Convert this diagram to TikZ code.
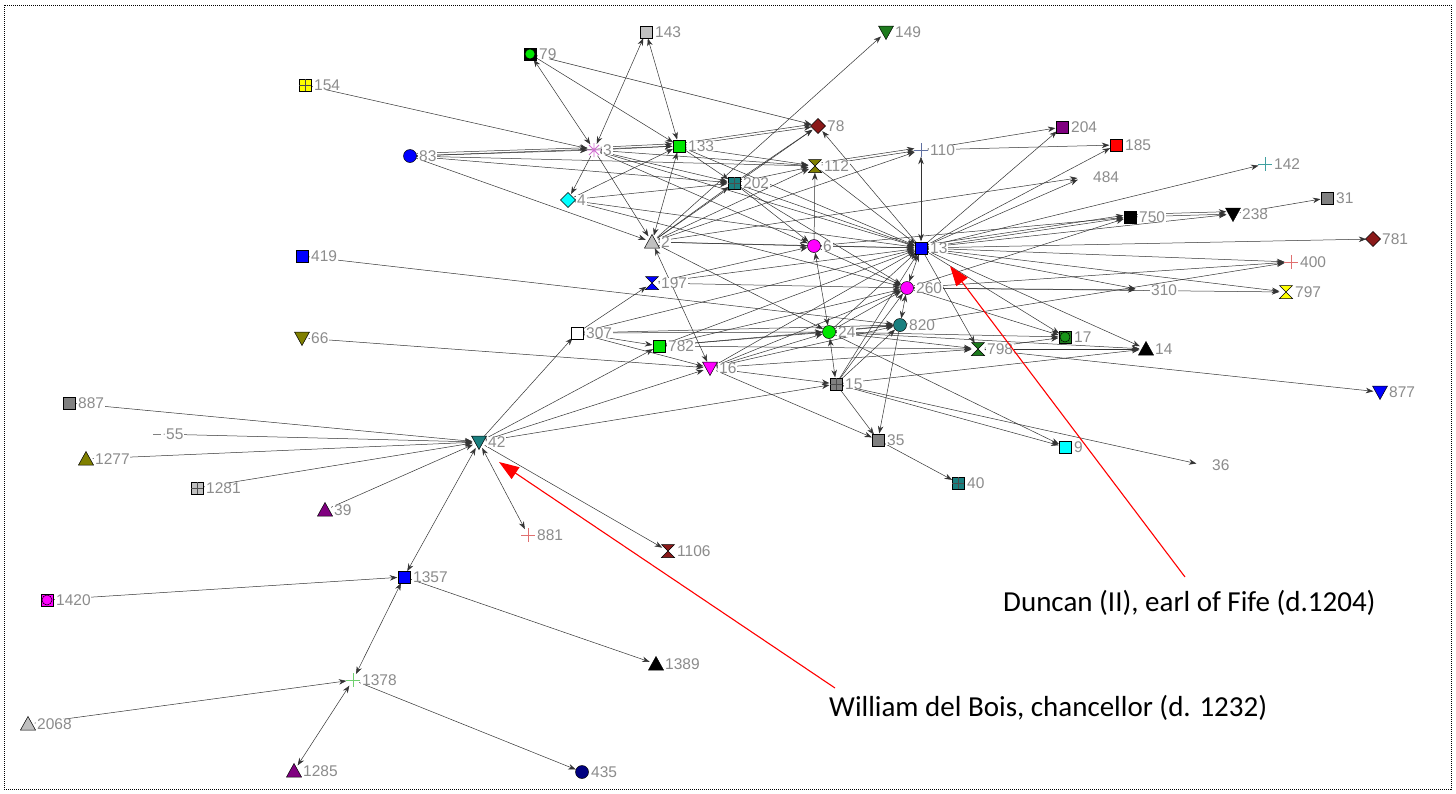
\documentclass[tikz,border=0pt]{standalone}
\usepackage{fontspec}
\setmainfont{Liberation Sans}
\newfontfamily\carlito{Carlito}
\usetikzlibrary{arrows.meta}
\definecolor{labg}{HTML}{8C8C8C}
\definecolor{cgreen}{HTML}{00E600}
\definecolor{cdgreen}{HTML}{1E7B1E}
\definecolor{cmag}{HTML}{FF00FF}
\definecolor{cteal}{HTML}{1A7F7F}
\definecolor{cgray}{HTML}{808080}
\definecolor{clgray}{HTML}{C0C0C0}
\definecolor{colive}{HTML}{808000}
\definecolor{cdred}{HTML}{8B1A1A}
\definecolor{cpurple}{HTML}{800080}
\definecolor{ccyan}{HTML}{00FFFF}
\definecolor{cnavy}{HTML}{000080}
\definecolor{cyellow}{HTML}{FFFF00}
\definecolor{cblue}{HTML}{0000FF}
\definecolor{cred}{HTML}{FF0000}
\definecolor{cpink}{HTML}{D070D0}
\definecolor{cplgreen}{HTML}{70D070}
\definecolor{cpteal}{HTML}{40A0A0}
\definecolor{cpblue}{HTML}{6070A0}
\definecolor{cpred}{HTML}{E07070}
\newcommand\V[3]{\node[vtx] (n#1) at (#2,#3) {};}
\tikzset{
  vtx/.style={circle, minimum size=13pt, inner sep=0pt, draw=none},
  lab/.style={anchor=west, inner xsep=0.8pt, inner ysep=0pt, fill=white, text=labg, font=\fontsize{15.5}{18}\selectfont},
  ed/.style={draw=black!80, line width=0.5pt, -{Stealth[length=7.5pt,width=5.5pt]}},
  edb/.style={draw=black!80, line width=0.5pt, {Stealth[length=7.5pt,width=5.5pt]}-{Stealth[length=7.5pt,width=5.5pt]}},
  anno/.style={anchor=west, inner sep=0pt, text=black, font=\carlito\fontsize{29}{33}\selectfont},
  redarr/.style={draw=red, line width=1.1pt, -{Triangle[length=20pt,width=14pt]}},
  shp/.style={draw=black, line width=0.5pt},
  pics/sq/.style={code={\draw[shp,fill=#1] (-6,-6) rectangle (6,6);}},
  pics/gsq/.style={code={\draw[shp,fill=#1] (-6,-6) rectangle (6,6); \draw[black!70,line width=0.5pt] (0,-6)--(0,6) (-6,0)--(6,0);}},
  pics/csq/.style 2 args={code={\draw[shp,fill=#1] (-6,-6) rectangle (6,6); \draw[shp,fill=#2] (0,0) circle (5pt);}},
  pics/ci/.style={code={\draw[shp,fill=#1] (0,0) circle (6.5pt);}},
  pics/di/.style={code={\draw[shp,fill=#1] (0,-7.5)--(7.5,0)--(0,7.5)--(-7.5,0)--cycle;}},
  pics/tu/.style={code={\draw[shp,fill=#1] (-7.5,6)--(7.5,6)--(0,-7.5)--cycle;}},
  pics/td/.style={code={\draw[shp,fill=#1] (-7.5,-6)--(7.5,-6)--(0,7.5)--cycle;}},
  pics/hg/.style={code={\draw[shp,fill=#1] (-6.5,-6.5)--(6.5,-6.5)--(-6.5,6.5)--(6.5,6.5)--cycle;}},
  pics/pl/.style={code={\draw[#1,line width=0.9pt] (-7,0)--(7,0) (0,-7)--(0,7);}},
  pics/ast/.style={code={\draw[#1,line width=0.9pt] (-7,0)--(7,0) (0,-7)--(0,7) (-5,-5)--(5,5) (-5,5)--(5,-5);}},
  pics/dsh/.style={code={\draw[#1,line width=0.9pt] (-4,0)--(4,0);}},
}
\begin{document}
\begin{tikzpicture}[x=1pt,y=-1pt]
\useasboundingbox (0,0) rectangle (1456,793);
\fill[white] (0,0) rectangle (1456,793);
\draw[line width=0.9pt, dash pattern=on 1pt off 1pt] (4,5) rectangle (1451,789);
% vertices
\V{143}{646}{32}   \V{79}{530}{54}    \V{149}{886}{32}   \V{154}{305}{85}
\V{78}{818}{126}   \V{204}{1062}{127} \V{185}{1116}{145} \V{83}{410}{156}
\V{3}{594}{150}    \V{133}{679}{146}  \V{112}{815}{166}  \V{110}{921}{150}
\V{142}{1265}{164} \V{484}{1084}{177} \V{202}{734}{183}  \V{4}{568}{200}
\V{2}{652}{242}    \V{6}{814}{246}    \V{13}{921}{248}   \V{750}{1130}{217}
\V{238}{1233}{214} \V{31}{1327}{198}  \V{781}{1373}{239} \V{400}{1291}{262}
\V{797}{1286}{292} \V{310}{1142}{290} \V{419}{302}{256}  \V{197}{652}{283}
\V{260}{907}{288}  \V{820}{900}{325}  \V{307}{577}{333}  \V{24}{829}{332}
\V{782}{659}{346}  \V{66}{302}{338}   \V{17}{1065}{337}  \V{798}{978}{349}
\V{14}{1146}{349}  \V{16}{710}{368}   \V{15}{836}{384}   \V{877}{1380}{392}
\V{887}{69}{403}   \V{55}{157}{434}   \V{42}{479}{442}   \V{35}{878}{440}
\V{9}{1065}{447}   \V{36}{1203}{465}  \V{1277}{86}{459}  \V{40}{958}{483}
\V{1281}{197}{488} \V{39}{325}{510}   \V{881}{528}{535}  \V{1106}{668}{551}
\V{1357}{404}{577} \V{1420}{47}{600}  \V{1389}{656}{664} \V{1378}{353}{680}
\V{2068}{28}{724}  \V{1285}{294}{771} \V{435}{582}{772}
% edges
\foreach \a/\b in {79/133, 79/78, 154/3, 83/3, 83/133, 83/112, 83/202, 83/2,
  3/4, 3/202, 3/112, 3/2, 3/13, 3/6,
  4/133, 4/202, 4/13, 4/260,
  2/78, 2/112, 2/202, 2/110, 2/149, 2/6, 2/13, 2/24, 2/484,
  133/78, 133/112, 133/202, 133/13,
  202/112, 202/78, 202/13, 202/260, 202/6,
  6/112, 112/110, 112/13, 110/204, 110/185,
  13/78, 13/204, 13/185, 13/484, 13/142, 13/750, 6/750, 13/238, 750/238, 238/31,
  13/781, 13/400, 13/797, 13/310, 13/17, 13/14, 13/798,
  6/13, 6/260, 197/13, 197/6, 197/260,
  307/197, 307/782, 307/16, 307/24, 307/820, 307/13,
  42/307, 42/782, 42/16, 42/15,
  782/24, 782/820, 782/798, 782/260, 782/13,
  16/24, 16/820, 16/260, 16/13, 16/798, 16/15, 16/35,
  24/13, 24/260, 24/820, 24/798, 24/17, 24/9, 24/14,
  820/400, 260/310, 260/797, 260/400, 260/750, 260/17,
  15/820, 15/260, 15/13, 15/14, 15/36, 15/9, 15/35, 820/35, 35/40,
  798/877, 798/17, 798/14, 419/820, 66/16,
  887/42, 55/42, 1277/42, 1281/42, 39/42, 42/1106,
  1420/1357, 1357/1389, 2068/1378, 1378/435}
  \draw[ed] (n\a) -- (n\b);
\foreach \a/\b in {83/3, 133/78, 112/110, 750/238, 13/750, 3/133}
  \draw[ed, transform canvas={yshift=2.5pt}] (n\a) -- (n\b);
\foreach \a/\b in {79/3, 143/3, 143/133, 3/133, 2/133, 2/16, 110/13, 13/260,
  6/24, 24/15, 820/260, 42/881, 42/1357, 1357/1378, 1378/1285}
  \draw[edb] (n\a) -- (n\b);
% labels
\foreach \n in {143,79,149,154,78,204,185,83,3,133,112,110,142,484,202,4,2,6,13,750,
  238,31,781,400,797,310,419,197,260,820,307,24,782,66,17,798,14,16,15,877,
  887,55,42,35,9,36,1277,40,1281,39,881,1106,1357,1420,1389,1378,2068,1285,435}
  \node[lab] (l\n) at ([xshift=1.5pt]n\n.east) {\n};
% shapes
\pic at (n143) {sq=clgray};
\pic at (n79) {csq={black}{cgreen}};
\pic at (n149) {td=cdgreen};
\pic at (n154) {gsq=cyellow};
\pic at (n78) {di=cdred};
\pic at (n204) {sq=cpurple};
\pic at (n185) {sq=cred};
\pic at (n83) {ci=cblue};
\pic at (n3) {ast=cpink};
\pic at (n133) {sq=cgreen};
\pic at (n112) {hg=colive};
\pic at (n110) {pl=cpblue};
\pic at (n142) {pl=cpteal};
\pic at (n202) {gsq=cteal};
\pic at (n4) {di=ccyan};
\pic at (n2) {tu=clgray};
\pic at (n6) {ci=cmag};
\pic at (n13) {sq=cblue};
\pic at (n750) {sq=black};
\pic at (n238) {td=black};
\pic at (n31) {sq=cgray};
\pic at (n781) {di=cdred};
\pic at (n400) {pl=cpred};
\pic at (n797) {hg=cyellow};
\pic at (n419) {sq=cblue};
\pic at (n197) {hg=cblue};
\pic at (n260) {ci=cmag};
\pic at (n820) {ci=cteal};
\pic at (n307) {sq=white};
\pic at (n24) {ci=cgreen};
\pic at (n782) {sq=cgreen};
\pic at (n66) {td=colive};
\pic at (n17) {csq={cdgreen}{cdgreen!80!green}};
\pic at (n798) {hg=cdgreen};
\pic at (n14) {tu=black};
\pic at (n16) {td=cmag};
\pic at (n15) {gsq=cgray};
\pic at (n877) {td=cblue};
\pic at (n887) {sq=cgray};
\pic at (n55) {dsh=cgray};
\pic at (n42) {td=cteal};
\pic at (n35) {sq=cgray};
\pic at (n9) {sq=ccyan};
\pic at (n1277) {tu=colive};
\pic at (n40) {gsq=cteal};
\pic at (n1281) {gsq=clgray};
\pic at (n39) {tu=cpurple};
\pic at (n881) {pl=cpred};
\pic at (n1106) {hg=cdred};
\pic at (n1357) {sq=cblue};
\pic at (n1420) {csq={cmag}{cmag}};
\pic at (n1389) {tu=black};
\pic at (n1378) {pl=cplgreen};
\pic at (n2068) {tu=clgray};
\pic at (n1285) {tu=cpurple};
\pic at (n435) {ci=cnavy};
% annotations
\node[anno] (dun) at (1003,603) {Duncan (II), earl of Fife (d.1204)};
\node[anno] (wil) at (829,708) {William del Bois, chancellor (d. 1232)};
\coordinate (dunS) at (1185,577);
\coordinate (dunT) at (950,266);
\coordinate (wilS) at (835,688);
\coordinate (wilT) at (499,462);
\draw[redarr] (dunS) -- (dunT);
\draw[redarr] (wilS) -- (wilT);
\end{tikzpicture}
\end{document}
